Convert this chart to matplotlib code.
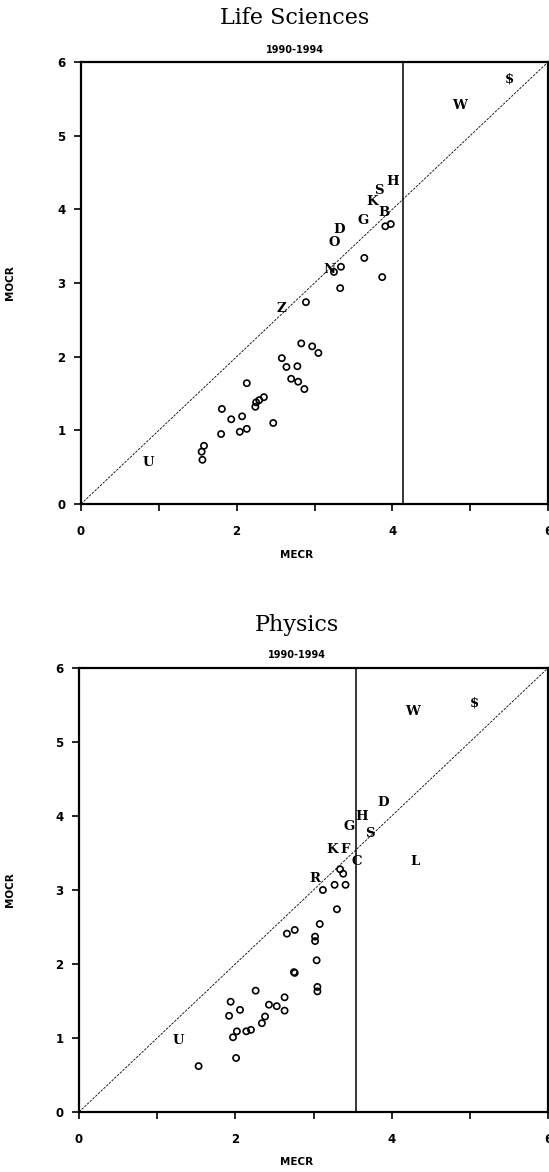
import numpy as np
import matplotlib
matplotlib.use('Agg')
import matplotlib.pyplot as plt

# Life Sciences 1990-1994
life_letters = ['H', 'S', 'K', 'B', 'G', 'D', 'O', 'N', 'Z', 'U', 'W', '$']
life_lx = [4.00, 3.83, 3.74, 3.89, 3.62, 3.32, 3.26, 3.19, 2.57, 0.86, 4.87, 5.50]
life_ly = [4.38, 4.25, 4.10, 3.96, 3.85, 3.73, 3.55, 3.18, 2.65, 0.56, 5.41, 5.77]
life_cx = [3.91, 3.98, 3.64, 3.34, 3.25, 3.87, 3.33, 2.89, 2.83, 2.97, 3.05, 2.58,
           2.64, 2.78, 2.70, 2.79, 2.87, 2.13, 2.35, 2.29, 2.25, 2.24, 1.81, 1.93,
           2.07, 2.47, 1.80, 2.04, 2.13, 1.58, 1.55, 1.56]
life_cy = [3.77, 3.80, 3.34, 3.22, 3.15, 3.08, 2.93, 2.74, 2.18, 2.14, 2.05, 1.98,
           1.86, 1.87, 1.70, 1.66, 1.56, 1.64, 1.45, 1.41, 1.38, 1.32, 1.29, 1.15,
           1.19, 1.10, 0.95, 0.98, 1.02, 0.79, 0.71, 0.60]
life_cut = 4.14

# Physics 1990-1994
phys_letters = ['D', 'H', 'G', 'S', 'K', 'F', 'C', 'L', 'R', 'W', '$', 'U']
phys_lx = [3.89, 3.62, 3.45, 3.72, 3.24, 3.40, 3.55, 4.30, 3.02, 4.27, 5.06, 1.27]
phys_ly = [4.18, 4.00, 3.86, 3.77, 3.55, 3.55, 3.39, 3.38, 3.15, 5.41, 5.53, 0.96]
phys_cx = [3.34, 3.38, 3.12, 3.27, 3.41, 3.30, 3.08, 2.66, 2.76, 3.02, 3.02, 3.04,
           2.75, 2.76, 3.05, 3.05, 2.26, 2.63, 1.94, 2.06, 2.43, 2.53, 2.63, 1.92,
           2.38, 2.34, 2.14, 2.20, 2.02, 1.97, 2.01, 1.53]
phys_cy = [3.28, 3.22, 3.00, 3.07, 3.07, 2.74, 2.54, 2.41, 2.46, 2.37, 2.31, 2.05,
           1.89, 1.88, 1.69, 1.63, 1.64, 1.55, 1.49, 1.38, 1.45, 1.43, 1.37, 1.30,
           1.29, 1.20, 1.09, 1.11, 1.09, 1.01, 0.73, 0.62]
phys_cut = 3.54

W, H = 549, 1172
fig = plt.figure(figsize=(W / 100, H / 100), dpi=100)

def panel(rect, title, tx, ty, sty, xlab_y, lx, ly, letters, cx, cy, cut):
    ax = fig.add_axes(rect)
    ax.set_xlim(0, 6)
    ax.set_ylim(0, 6)
    ax.plot([0, 6], [0, 6], color='black', lw=0.6, ls=(0, (3, 1.5)))
    ax.axvline(cut, color='black', lw=1.1)
    ax.scatter(cx, cy, s=20, facecolors='none', edgecolors='black', linewidths=1.2, zorder=3)
    for t, x, y in zip(letters, lx, ly):
        ax.text(x, y, t, ha='center', va='center', fontsize=9.5, fontweight='bold',
                family='DejaVu Serif', zorder=4)
    ax.set_xticks(range(7))
    ax.set_xticklabels(['0', '', '2', '', '4', '', '6'])
    ax.set_yticks(range(7))
    ax.tick_params(direction='out', length=5, width=1.2, labelsize=8.5, pad=10)
    ax.tick_params(axis='y', pad=6)
    for lab in ax.get_xticklabels() + ax.get_yticklabels():
        lab.set_fontweight('bold')
    for sp in ax.spines.values():
        sp.set_linewidth(1.6)
    fig.text(tx / W, 1 - ty / H, title, ha='center', va='center', fontsize=16,
             family='DejaVu Serif')
    fig.text(tx / W, 1 - sty / H, '1990-1994', ha='center', va='center', fontsize=7,
             fontweight='bold')
    fig.text(297 / W, 1 - xlab_y / H, 'MECR', ha='center', va='center', fontsize=7.5,
             fontweight='bold')
    yc = rect[1] + rect[3] / 2
    fig.text(10 / W, yc, 'MOCR', ha='center', va='center', rotation=90, fontsize=7.5,
             fontweight='bold')
    return ax

top = [81 / W, 1 - 504 / H, 467 / W, 442 / H]
bot = [79 / W, 1 - 1112 / H, 469 / W, 444 / H]
panel(top, 'Life Sciences', 295, 18, 50, 555, life_lx, life_ly, life_letters,
      life_cx, life_cy, life_cut)
panel(bot, 'Physics', 297, 625, 655, 1162, phys_lx, phys_ly, phys_letters,
      phys_cx, phys_cy, phys_cut)

fig.savefig('out.png', dpi=100)
